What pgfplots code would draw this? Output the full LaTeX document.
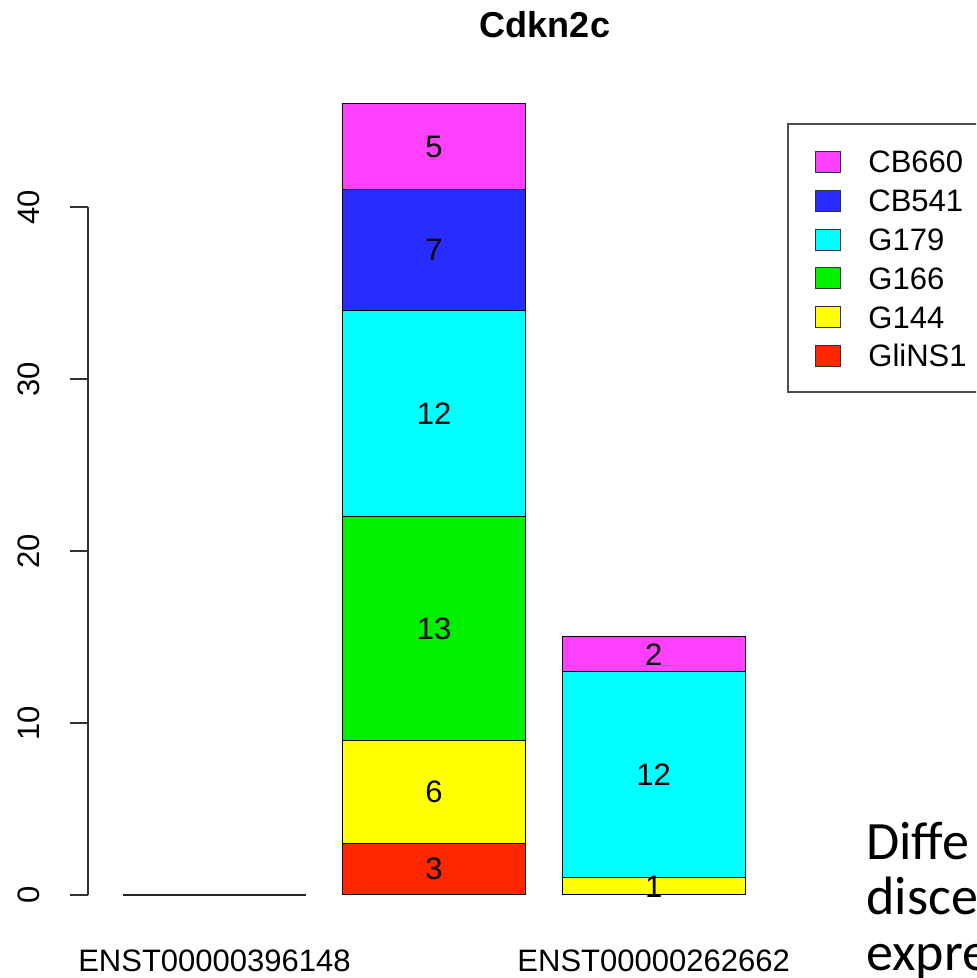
\documentclass[border=0pt]{standalone}
\usepackage{pgfplots}
\pgfplotsset{compat=1.18}
\usepackage{pgfplotstable}
\usepackage{fontspec}
\setmainfont{Liberation Sans}
\newfontfamily\carlito{Carlito}
\definecolor{cMag}{RGB}{255,64,255}
\definecolor{cBlue}{RGB}{40,44,255}
\definecolor{cCyan}{RGB}{0,255,255}
\definecolor{cGreen}{RGB}{0,240,0}
\definecolor{cYellow}{RGB}{255,255,0}
\definecolor{cRed}{RGB}{255,38,0}
\pgfplotstableread{
x GliNS1 G144 G166 G179 CB541 CB660
0.7 0 0 0 0 0 0
1.9 3 6 13 12 7 5
3.1 0 1 0 12 0 2
}\bars
\pgfplotstableread{
x y label
1.9 1.5 3
1.9 6 6
1.9 15.5 13
1.9 28 12
1.9 37.5 7
1.9 43.5 5
3.1 0.5 1
3.1 7 12
3.1 14 2
}\vals
\newcommand{\rfont}{\fontsize{15.5}{18}\selectfont}
\begin{document}
\begin{tikzpicture}
\useasboundingbox (0pt,0pt) rectangle (488pt,489pt);
\clip (0pt,0pt) rectangle (488pt,489pt);
\pgfplotsset{myax/.style={at={(44pt,41.5pt)}, anchor=south west, scale only axis,
  width=458.5pt, height=344pt, xmin=0.009, xmax=5.02, ymin=0, ymax=40, clip=false}}
\begin{axis}[myax, ybar stacked, bar width=1,
  axis lines*=left, x axis line style={draw=none}, y axis line style={black!80, line width=0.6pt},
  xtick={0.7,3.1}, xticklabels={ENST00000396148,ENST00000262662},
  xtick style={draw=none},
  ytick={0,10,20,30,40}, ytick pos=left, tick align=outside, major tick length=9pt,
  ytick style={black!80, line width=0.6pt},
  /pgf/number format/assume math mode=true,
  ticklabel style={font=\rfont},
  yticklabel style={rotate=90, anchor=base},
  yticklabel shift=15.5pt,
  xticklabel style={anchor=base, yshift=-29pt},
  every axis plot/.append style={draw=black, line width=0.5pt},
]
\addplot[fill=cRed] table[x=x,y=GliNS1] {\bars};
\addplot[fill=cYellow] table[x=x,y=G144] {\bars};
\addplot[fill=cGreen] table[x=x,y=G166] {\bars};
\addplot[fill=cCyan] table[x=x,y=G179] {\bars};
\addplot[fill=cBlue] table[x=x,y=CB541] {\bars};
\addplot[fill=cMag] table[x=x,y=CB660] {\bars};
\end{axis}
\begin{axis}[myax, axis lines=none, xtick=\empty, ytick=\empty]
% zero-height bar of ENST00000396148 (drawn as a line, as R does)
\addplot[black!85, line width=0.7pt, mark=none] coordinates {(0.2,0) (1.2,0)};
\addplot[only marks, mark=none, nodes near coords, point meta=explicit symbolic,
  every node near coord/.append style={anchor=center, font=\rfont, inner sep=0pt}]
  table[x=x, y=y, meta=label] {\vals};
\end{axis}
\begin{scope}[x=0.5pt,y=0.5pt]
\node[anchor=base, font=\bfseries\fontsize{18}{20}\selectfont] at (545,940) {Cdkn2c};
% legend
\draw[black!70, line width=0.6pt] (788,854) rectangle (1010,586);
\foreach \c/\t/\yc in {cMag/CB660/816, cBlue/CB541/777.2, cCyan/G179/738.4,
                       cGreen/G166/699.6, cYellow/G144/660.8, cRed/GliNS1/622}{
  \filldraw[fill=\c, draw=black!80, line width=0.5pt] (815,\yc-10.5) rectangle (840,\yc+10.5);
  \node[anchor=base west, inner sep=0pt, font=\rfont] at (868,\yc-11) {\t};
}
\node[anchor=base west, inner sep=0pt, font=\carlito\fontsize{27}{29}\selectfont] at (866,118) {Diffe};
\node[anchor=base west, inner sep=0pt, font=\carlito\fontsize{27}{29}\selectfont] at (866,63) {disce};
\node[anchor=base west, inner sep=0pt, font=\carlito\fontsize{27}{29}\selectfont] at (866,8) {expre};
\end{scope}
\end{tikzpicture}
\end{document}
